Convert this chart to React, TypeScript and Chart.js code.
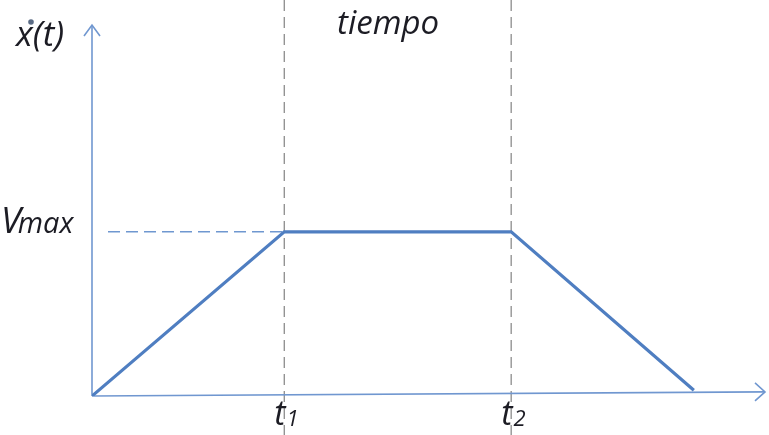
import React, { useEffect, useRef } from "react";
import { Chart, registerables } from "chart.js";

Chart.register(...registerables);

// Trapezoidal velocity profile (time units, velocity units with Vmax = 10)
const times: number[] = [0, 10, 21.8, 31.3];
const velocity: number[] = [0, 10, 10, 0.35];
const markerTimes: number[] = [10, 21.8];
const markerLabels: string[] = ["1", "2"];
const vmax = 10;
const xMax = 35;
const yMax = 22.6;

const FONT = "'Open Sans', 'Noto Sans', sans-serif";
const AXIS_COLOR = "#7097d0";
const LINE_COLOR = "#4f7ec1";

const overlay = {
  id: "overlay",
  beforeDatasetsDraw(chart: any) {
    const { ctx, scales } = chart;
    const xs = scales.x;
    const ys = scales.y;
    const x0 = xs.getPixelForValue(0);
    const y0 = ys.getPixelForValue(0);
    ctx.save();
    ctx.strokeStyle = "#8c8c8c";
    ctx.lineWidth = 1.3;
    ctx.setLineDash([11, 6]);
    markerTimes.forEach((t) => {
      const px = xs.getPixelForValue(t);
      ctx.beginPath();
      ctx.moveTo(px, 0);
      ctx.lineTo(px, chart.height);
      ctx.stroke();
    });
    ctx.strokeStyle = "#6f97d0";
    ctx.lineWidth = 1.5;
    ctx.setLineDash([12, 6]);
    const vy = ys.getPixelForValue(vmax);
    ctx.beginPath();
    ctx.moveTo(x0 + 16, vy);
    ctx.lineTo(xs.getPixelForValue(markerTimes[0]), vy);
    ctx.stroke();
    ctx.setLineDash([]);
    ctx.strokeStyle = AXIS_COLOR;
    ctx.lineWidth = 1.6;
    const xEndX = xs.getPixelForValue(xMax);
    const xEndY = ys.getPixelForValue(0.25);
    ctx.beginPath();
    ctx.moveTo(x0, y0);
    ctx.lineTo(xEndX, xEndY);
    ctx.stroke();
    ctx.beginPath();
    ctx.moveTo(xEndX - 10, xEndY - 9);
    ctx.lineTo(xEndX, xEndY);
    ctx.lineTo(xEndX - 10, xEndY + 9);
    ctx.stroke();
    const yTop = ys.getPixelForValue(yMax);
    ctx.beginPath();
    ctx.moveTo(x0, y0);
    ctx.lineTo(x0, yTop);
    ctx.stroke();
    ctx.beginPath();
    ctx.moveTo(x0 - 8, yTop + 11);
    ctx.lineTo(x0, yTop);
    ctx.lineTo(x0 + 8, yTop + 11);
    ctx.stroke();
    ctx.restore();
  },
  afterDraw(chart: any) {
    const { ctx, scales } = chart;
    const xs = scales.x;
    const ys = scales.y;
    ctx.save();
    ctx.fillStyle = "#1c1c24";
    ctx.textBaseline = "alphabetic";
    ctx.textAlign = "left";
    // title
    ctx.font = `italic 500 33px ${FONT}`;
    ctx.fillText("tiempo", 337, 34);
    // y label x(t) with dot
    ctx.font = `italic 500 35px ${FONT}`;
    ctx.fillText("x(t)", 16, 46);
    ctx.fillStyle = "#5a6b85";
    ctx.beginPath();
    ctx.arc(31, 22, 2.8, 0, Math.PI * 2);
    ctx.fill();
    // Vmax
    ctx.fillStyle = "#1c1c24";
    const vy = ys.getPixelForValue(vmax);
    ctx.font = `italic 500 36px ${FONT}`;
    ctx.fillText("V", 1, vy + 1);
    const vw = ctx.measureText("V").width;
    ctx.font = `italic 500 29px ${FONT}`;
    ctx.fillText("max", 1 + vw - 3, vy + 1);
    // t1, t2
    markerTimes.forEach((t, i) => {
      const px = xs.getPixelForValue(t);
      ctx.font = `italic 500 34px ${FONT}`;
      const tw = ctx.measureText("t").width;
      ctx.fillText("t", px - 10, 425);
      ctx.font = `italic 500 22px ${FONT}`;
      ctx.fillText(markerLabels[i], px - 9 + tw, 426);
    });
    ctx.restore();
  },
};

export default function App() {
  const ref = useRef<HTMLCanvasElement>(null);
  useEffect(() => {
    document.body.style.margin = "0";
    const chart = new Chart(ref.current as HTMLCanvasElement, {
      type: "line",
      data: {
        datasets: [
          {
            data: times.map((t, i) => ({ x: t, y: velocity[i] })),
            borderColor: LINE_COLOR,
            borderWidth: 3.2,
            pointRadius: 0,
            fill: false,
            tension: 0,
          },
        ],
      },
      options: {
        responsive: false,
        animation: false,
        layout: { padding: { left: 92, right: 4, top: 25, bottom: 39 } },
        plugins: { legend: { display: false }, tooltip: { enabled: false }, title: { display: false } },
        scales: {
          x: { type: "linear", min: 0, max: xMax, display: false },
          y: { type: "linear", min: 0, max: yMax, display: false },
        },
      },
      plugins: [overlay],
    });
    return () => chart.destroy();
  }, []);
  return (
    <div style={{ position: "absolute", left: 0, top: 0, width: 769, height: 435, background: "#fff" }}>
      <canvas ref={ref} width={769} height={435} />
    </div>
  );
}
